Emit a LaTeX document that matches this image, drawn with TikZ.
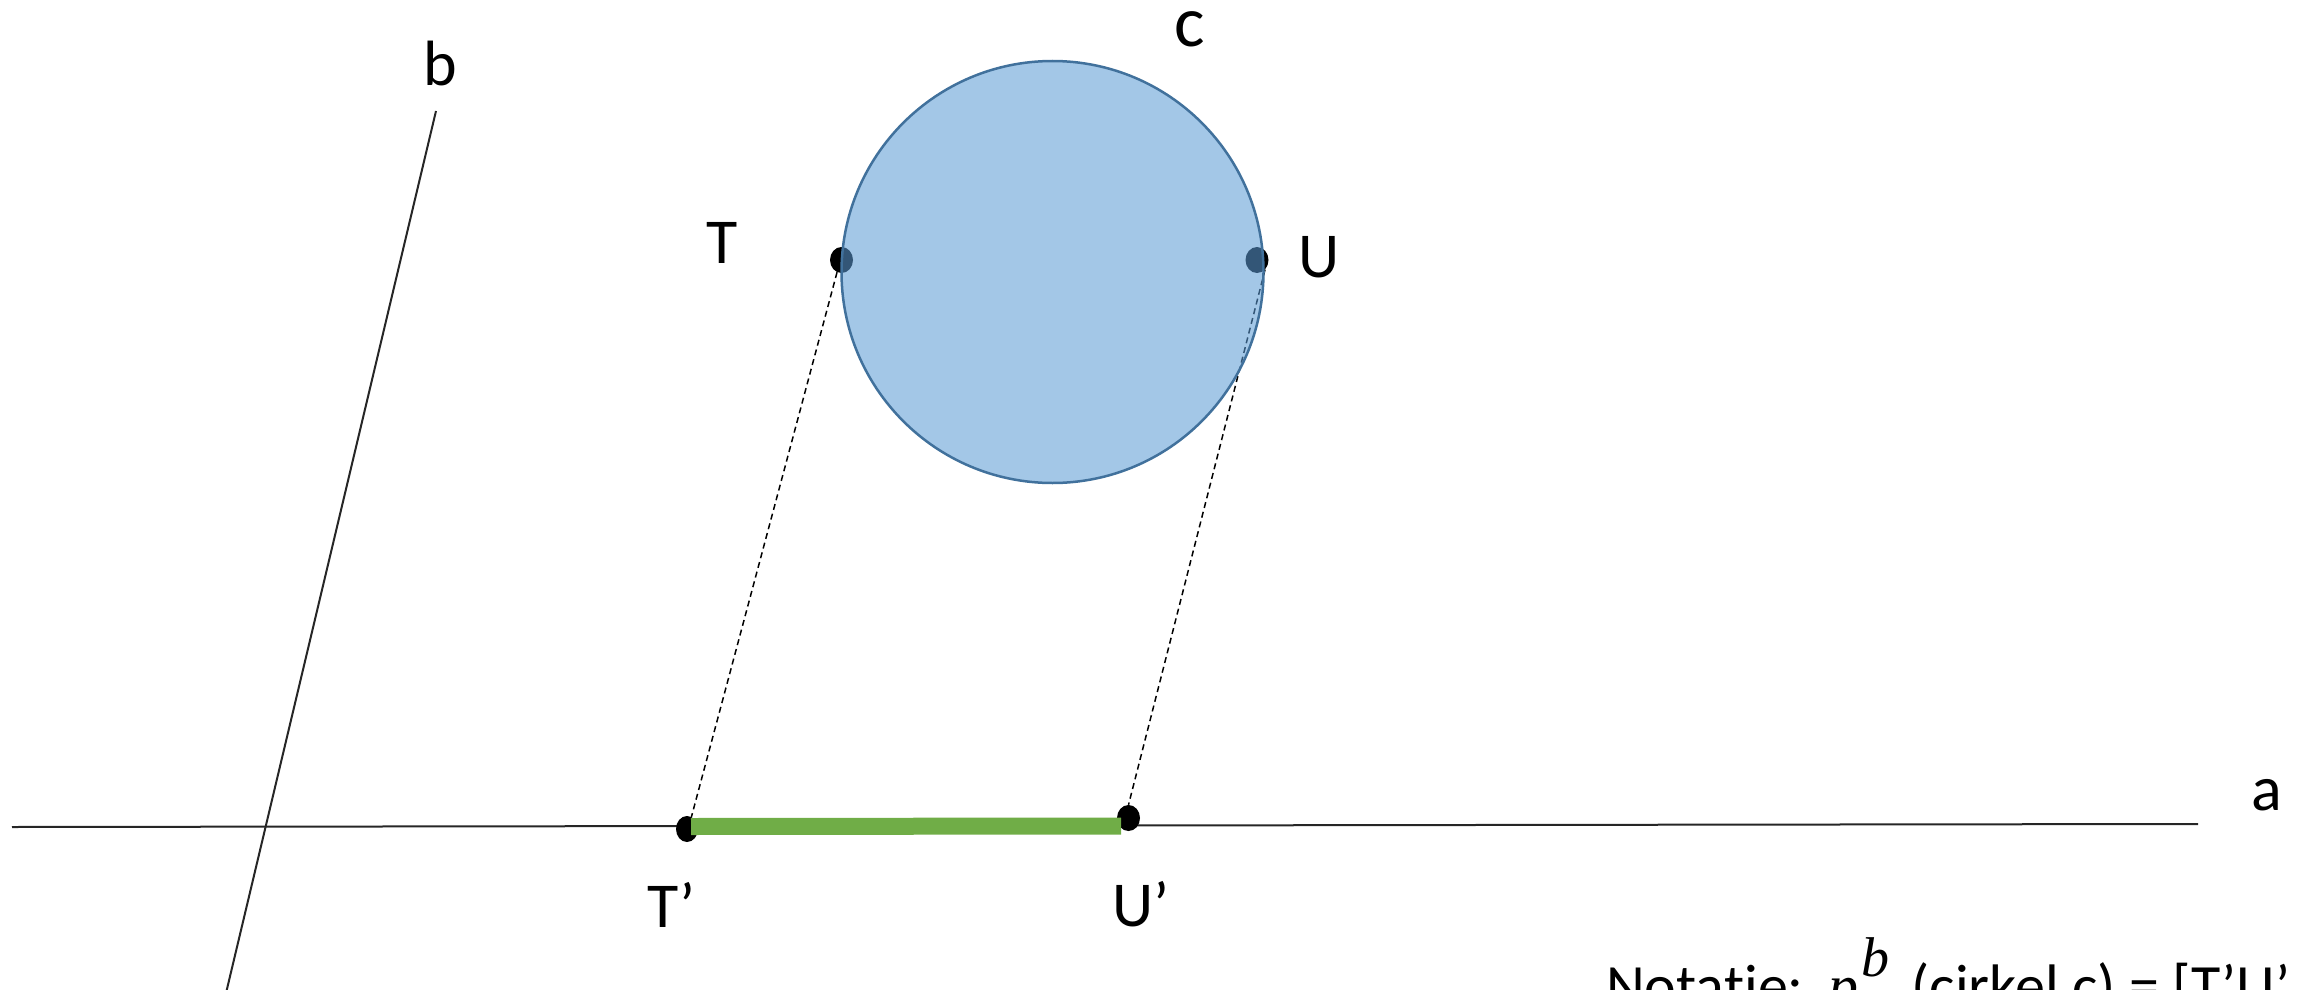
\documentclass[tikz,border=0pt]{standalone}
\usepackage{fontspec}
\setmainfont{Carlito}
\newfontfamily\cmathfont{Liberation Serif}
\usetikzlibrary{shapes.geometric}
\definecolor{circfill}{HTML}{5B9BD5}
\definecolor{circline}{HTML}{41719C}
\definecolor{segcol}{HTML}{70AD47}
\tikzset{
 axisline/.style={line width=2pt, black!85},
 projline/.style={line width=1.5pt, dash pattern=on 6pt off 4pt},
 dotnode/.style={ellipse, fill=black, inner sep=0pt, minimum width=23pt, minimum height=26pt},
 lbl/.style={anchor=base west, inner sep=0pt, font=\fontsize{64}{76}\selectfont},
}
\begin{document}
\begin{tikzpicture}[x=1pt,y=-1pt]
\useasboundingbox (0,0) rectangle (2308,990);
\clip (0,0) rectangle (2308,990);
% lines a and b
\coordinate (a1) at (12,827);
\coordinate (a2) at (2198,824);
\coordinate (b1) at (436,111);
\coordinate (b2) at (222,1010);
\draw[axisline] (a1) -- (a2);
\draw[axisline] (b1) -- (b2);
% points
\node[dotnode] (T) at (841.5,260) {};
\node[dotnode] (U) at (1257,260) {};
\node[dotnode, minimum width=22pt] (Tp) at (687,829) {};
\node[dotnode] (Up) at (1128.5,818) {};
% projections
\draw[projline] (T.-110) -- (Tp.70);
\draw[projline] (U.-50) -- (Up.north);
% projected segment
\coordinate (s1) at (691,826.5);
\coordinate (s2) at (1121,826);
\draw[segcol, line width=17pt] (s1) -- (s2);
% circle c
\node[circle, draw=circline, line width=2.5pt, fill=circfill, fill opacity=0.56,
      minimum size=422pt, inner sep=0pt] (C) at (1052.5,272) {};
% labels
\node[lbl] (lb) at (423,85) {b};
\node[lbl] (la) at (2251,810) {a};
\node[lbl, font=\fontsize{72}{86}\selectfont, text height=0.5em] (lc) at (1174,47) {c};
\node[lbl] (lT) at (706,263) {T};
\node[lbl] (lU) at (1298,277) {U};
\node[lbl] (lTp) at (647,927) {T’};
\node[lbl] (lUp) at (1112,926) {U’};
\node[lbl, font=\fontsize{60}{72}\selectfont\addfontfeature{Ligatures=NoCommon}] (note) at (1606,1006)
  {Notatie: \hspace{0.1em}{\cmathfont\itshape p\hspace{0.05em}\raisebox{0.5em}{\fontsize{56}{66}\selectfont b}}\hspace{0.15em} (cirkel c) = [T’U’};
\end{tikzpicture}
\end{document}
